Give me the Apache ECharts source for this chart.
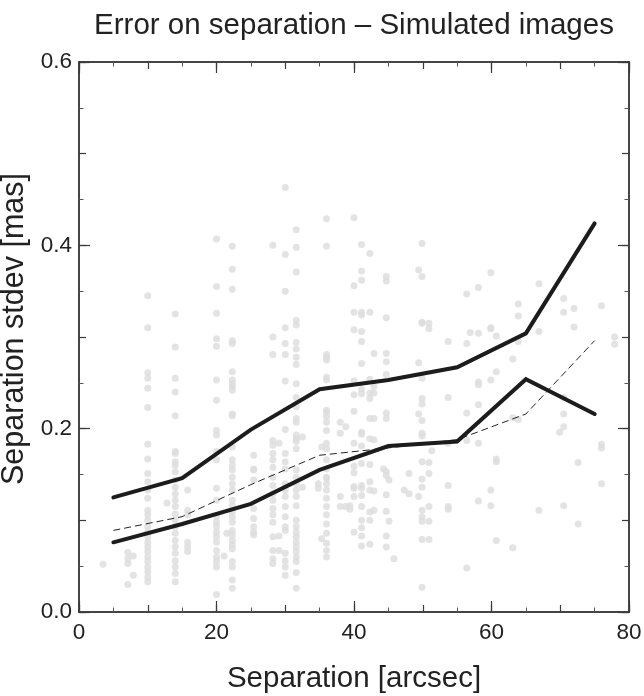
<!DOCTYPE html>
<html>
<head>
<meta charset="utf-8">
<script src="https://cdn.jsdelivr.net/npm/echarts@6/dist/echarts.min.js"></script>
<style>
  html, body { margin: 0; padding: 0; background: #fff; }
  #chart { width: 644px; height: 696px; }
</style>
</head>
<body>
<div id="chart"></div>
<script>
// ---- data ----
const titleText = 'Error on separation \u2013 Simulated images';
const xAxisName = 'Separation [arcsec]';
const yAxisName = 'Separation stdev [mas]';

const binCenters = [5, 15, 25, 35, 45, 55, 65, 75];
const upperStdev = [0.125, 0.146, 0.199, 0.243, 0.253, 0.267, 0.304, 0.424];
const lowerStdev = [0.076, 0.096, 0.118, 0.155, 0.181, 0.186, 0.254, 0.216];
const meanStdev  = [0.089, 0.104, 0.139, 0.171, 0.179, 0.188, 0.216, 0.296];

// simulated-image points: [separation, list of stdev values]
const dotColumns = [
  [3.5, [0.052]],
  [7.1, [0.065, 0.058, 0.053, 0.030]],
  [7.9, [0.061, 0.040]],
  [10, [0.345, 0.310, 0.261, 0.255, 0.244, 0.223, 0.183, 0.167, 0.151, 0.142, 0.133, 0.124, 0.111, 0.106, 0.100, 0.093, 0.087, 0.082, 0.076, 0.071, 0.066, 0.060, 0.055, 0.049, 0.044, 0.038, 0.033]],
  [12.8, [0.119]],
  [14, [0.325, 0.289, 0.255, 0.240, 0.214, 0.175, 0.173, 0.164, 0.160, 0.153, 0.144, 0.136, 0.129, 0.122, 0.115, 0.107, 0.100, 0.093, 0.086, 0.078, 0.071, 0.064, 0.056, 0.049, 0.042, 0.033]],
  [15.8, [0.133, 0.111, 0.106, 0.076, 0.071, 0.066]],
  [20, [0.407, 0.355, 0.326, 0.298, 0.290, 0.253, 0.231, 0.198, 0.193, 0.175, 0.166, 0.135, 0.122, 0.104, 0.098, 0.093, 0.087, 0.082, 0.076, 0.067, 0.060, 0.055, 0.049, 0.019]],
  [21.1, [0.061]],
  [21.5, [0.086]],
  [22.3, [0.399, 0.374, 0.352, 0.296, 0.293, 0.262, 0.253, 0.249, 0.246, 0.242, 0.216, 0.214, 0.180, 0.166, 0.160, 0.155, 0.147, 0.140, 0.133, 0.122, 0.116, 0.109, 0.104, 0.098, 0.089, 0.084, 0.078, 0.073, 0.069, 0.055, 0.049, 0.035, 0.026]],
  [25.4, [0.171, 0.156, 0.155, 0.144, 0.113, 0.102, 0.093, 0.087, 0.084]],
  [28.2, [0.400, 0.300, 0.281, 0.187, 0.182, 0.173, 0.166, 0.158, 0.147, 0.138, 0.129, 0.122, 0.113, 0.106, 0.098, 0.082, 0.067, 0.058, 0.053]],
  [29.1, [0.184, 0.083, 0.067]],
  [30, [0.463, 0.390, 0.350, 0.310, 0.293, 0.281, 0.252, 0.199, 0.173, 0.164, 0.156, 0.140, 0.133, 0.126, 0.115, 0.104, 0.093, 0.089, 0.064, 0.056, 0.049, 0.040]],
  [31.6, [0.417, 0.398, 0.371, 0.318, 0.313, 0.294, 0.287, 0.278, 0.270, 0.249, 0.234, 0.224, 0.211, 0.207, 0.193, 0.189, 0.186, 0.178, 0.155, 0.147, 0.140, 0.133, 0.126, 0.116, 0.100, 0.093, 0.087, 0.082, 0.076, 0.071, 0.066, 0.060, 0.055, 0.043, 0.026]],
  [32.5, [0.191, 0.136]],
  [34.8, [0.140, 0.135]],
  [35.3, [0.180, 0.080]],
  [36, [0.429, 0.399, 0.281, 0.278, 0.275, 0.256, 0.253, 0.220, 0.218, 0.213, 0.207, 0.198, 0.184, 0.178, 0.166, 0.156, 0.147, 0.146, 0.140, 0.133, 0.124, 0.115, 0.106, 0.096, 0.086, 0.075, 0.067, 0.060]],
  [38, [0.207, 0.195, 0.126, 0.115]],
  [38.8, [0.202, 0.115]],
  [39.4, [0.116, 0.112]],
  [40, [0.430, 0.356, 0.327, 0.308, 0.252, 0.237, 0.219, 0.184, 0.159, 0.152, 0.137, 0.135, 0.126, 0.087]],
  [41.1, [0.401, 0.372, 0.362, 0.327, 0.324, 0.306, 0.295, 0.271, 0.243, 0.238, 0.196, 0.194, 0.181, 0.162, 0.138, 0.135, 0.127, 0.115, 0.100, 0.092, 0.083, 0.072]],
  [42.3, [0.391, 0.327, 0.254, 0.233, 0.239, 0.211, 0.189, 0.161, 0.142, 0.133, 0.109, 0.100, 0.074]],
  [42.9, [0.282, 0.246, 0.239, 0.211, 0.188, 0.132, 0.111]],
  [44.3, [0.156]],
  [44.7, [0.366, 0.361, 0.321, 0.282, 0.273, 0.259, 0.217, 0.211, 0.153, 0.149, 0.128, 0.110, 0.083, 0.071]],
  [45.1, [0.144, 0.099]],
  [45.8, [0.058]],
  [47.3, [0.133]],
  [48, [0.151, 0.129]],
  [49.4, [0.373, 0.272, 0.216, 0.126]],
  [49.9, [0.402, 0.366, 0.316, 0.315, 0.255, 0.233, 0.227, 0.209, 0.195, 0.192, 0.164, 0.145, 0.136, 0.111, 0.104, 0.099, 0.079, 0.027]],
  [50.9, [0.315, 0.309, 0.163, 0.151, 0.115, 0.099, 0.079]],
  [51.3, [0.176]],
  [53.7, [0.295, 0.234, 0.184, 0.138, 0.115, 0.112]],
  [56.4, [0.347, 0.293, 0.217, 0.187, 0.048]],
  [56.9, [0.305]],
  [58.1, [0.354, 0.304, 0.251, 0.248, 0.226, 0.184, 0.121]],
  [59.9, [0.370, 0.310, 0.309, 0.253, 0.133, 0.116]],
  [60.7, [0.301, 0.262, 0.167, 0.164, 0.078]],
  [63.1, [0.276, 0.212, 0.070]],
  [63.9, [0.336, 0.323, 0.295, 0.210]],
  [66.9, [0.358, 0.306, 0.111]],
  [69.9, [0.196]],
  [70.5, [0.342, 0.327, 0.234, 0.216, 0.202, 0.116]],
  [72, [0.331, 0.311]],
  [72.6, [0.163, 0.096]],
  [76, [0.334, 0.183, 0.179, 0.140]],
  [77.9, [0.300, 0.292]]
];

// ---- build ----
const dots = dotColumns.flatMap(([x, ys]) => ys.map(y => [x, y]));
const zip = (xs, ys) => xs.map((x, i) => [x, ys[i]]);

const FONT = '"Liberation Sans", Arial, Helvetica, sans-serif';
const AX = '#3a3a3a';

function xAx(pos, interval, len, labels, minor, extra) {
  return Object.assign({
    type: 'value', position: pos, min: 0, max: 80, interval: interval,
    axisLine: { show: true, onZero: false, lineStyle: { color: AX, width: 1.5 } },
    axisTick: { show: true, inside: true, length: len, lineStyle: { color: AX, width: 1.2 } },
    minorTick: { show: minor, splitNumber: 4, length: 4.5, lineStyle: { color: '#555', width: 1 } },
    axisLabel: { show: labels, fontSize: 22.5, color: '#222', fontFamily: FONT, margin: 9 },
    splitLine: { show: false }, minorSplitLine: { show: false }
  }, extra || {});
}
function yAx(pos, interval, len, labels, minor, extra) {
  return Object.assign({
    type: 'value', position: pos, min: 0, max: 0.6, interval: interval,
    axisLine: { show: true, onZero: false, lineStyle: { color: AX, width: 1.5 } },
    axisTick: { show: true, inside: true, length: len, lineStyle: { color: AX, width: 1.2 } },
    minorTick: { show: minor, splitNumber: 4, length: 4.5, lineStyle: { color: '#555', width: 1 } },
    axisLabel: { show: labels, fontSize: 22.5, color: '#222', fontFamily: FONT, margin: 7,
                 formatter: v => v.toFixed(1) },
    splitLine: { show: false }, minorSplitLine: { show: false }
  }, extra || {});
}

const chart = echarts.init(document.getElementById('chart'), null, { renderer: 'canvas' });
chart.setOption({
  animation: false,
  backgroundColor: '#fff',
  grid: { left: 79, top: 62, width: 550, height: 550, containLabel: false, outerBoundsMode: 'none' },
  graphic: [{
    type: 'text', x: 354, y: 11,
    style: { text: titleText, font: '29.5px ' + FONT, fill: '#222', textAlign: 'center', textVerticalAlign: 'top' }
  }],
  xAxis: [
    xAx('bottom', 20, 11, true, true, {
      name: xAxisName, nameLocation: 'middle', nameGap: 52,
      nameTextStyle: { fontSize: 29.5, color: '#222', fontFamily: FONT }
    }),
    xAx('bottom', 10, 7, false, false),
    xAx('top', 20, 11, false, true),
    xAx('top', 10, 7, false, false)
  ],
  yAxis: [
    yAx('left', 0.2, 11, true, true, {
      name: yAxisName, nameLocation: 'middle', nameGap: 42, nameRotate: 90,
      nameTextStyle: { fontSize: 30.5, color: '#222', fontFamily: FONT, padding: [0, 0, 0, 16] }
    }),
    yAx('left', 0.1, 7, false, false),
    yAx('right', 0.2, 11, false, true),
    yAx('right', 0.1, 7, false, false)
  ],
  series: [
    {
      type: 'scatter', xAxisIndex: 0, yAxisIndex: 0, data: dots,
      symbol: 'circle', symbolSize: 7,
      itemStyle: { color: '#dcdcdc' }, z: 1, silent: true
    },
    {
      type: 'line', xAxisIndex: 0, yAxisIndex: 0, data: zip(binCenters, meanStdev),
      showSymbol: false, symbol: 'none',
      lineStyle: { color: '#222', width: 1, type: [7, 4] }, z: 3
    },
    {
      type: 'line', xAxisIndex: 0, yAxisIndex: 0, data: zip(binCenters, upperStdev),
      showSymbol: false, symbol: 'none',
      lineStyle: { color: '#1c1c1c', width: 4, cap: 'round', join: 'miter' }, z: 4
    },
    {
      type: 'line', xAxisIndex: 0, yAxisIndex: 0, data: zip(binCenters, lowerStdev),
      showSymbol: false, symbol: 'none',
      lineStyle: { color: '#1c1c1c', width: 4, cap: 'round', join: 'miter' }, z: 4
    }
  ]
});
</script>
</body>
</html>
